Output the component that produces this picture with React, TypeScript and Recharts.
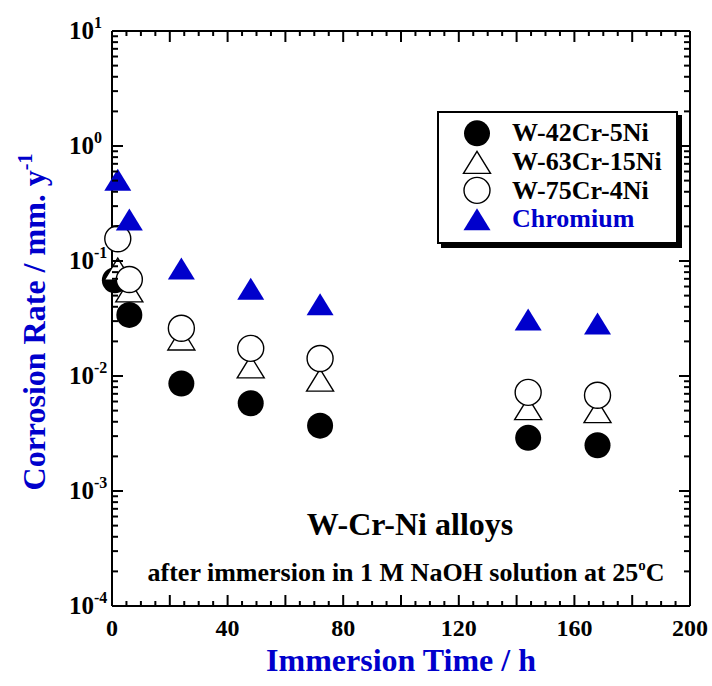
import React from 'react';
import { ScatterChart, Scatter, XAxis, YAxis, Legend } from 'recharts';

const FONT = '"Liberation Serif", "Times New Roman", serif';
const BLUE = '#0000cc';

// Immersion times (h)
const timesH = [2, 6, 24, 48, 72, 144, 168];
const timesW42 = [1, 6, 24, 48, 72, 144, 168];

// Corrosion rates (mm/y)
const rateW42Cr5Ni = [0.068, 0.034, 0.0086, 0.0058, 0.0037, 0.0029, 0.0025];
const rateW63Cr15Ni = [0.085, 0.055, 0.021, 0.012, 0.0092, 0.0052, 0.0049];
const rateW75Cr4Ni = [0.156, 0.069, 0.026, 0.0174, 0.0142, 0.0072, 0.0068];
const rateChromium = [0.51, 0.229, 0.086, 0.0575, 0.042, 0.031, 0.0286];

// Axis ticks
const xTicks = [0, 5, 10, 15, 20, 25, 30, 35, 40, 45, 50, 55, 60, 65, 70, 75, 80, 85, 90, 95, 100,
  105, 110, 115, 120, 125, 130, 135, 140, 145, 150, 155, 160, 165, 170, 175, 180, 185, 190, 195, 200];
const xMajorTicks = [0, 20, 40, 60, 80, 100, 120, 140, 160, 180, 200];
const xLabelTicks = [0, 40, 80, 120, 160, 200];
const yDecadeExps = [-4, -3, -2, -1, 0, 1];
const yMinorMultipliers = [1, 2, 3, 4, 5, 6, 7, 8, 9];

const yTicks: number[] = [];
yDecadeExps.forEach((e, i) => {
  if (i === yDecadeExps.length - 1) {
    yTicks.push(Math.pow(10, e));
  } else {
    yMinorMultipliers.forEach((m) => yTicks.push(m * Math.pow(10, e)));
  }
});

const toPoints = (xs: number[], ys: number[]) => xs.map((x, i) => ({ x, y: ys[i] }));
const dataW42 = toPoints(timesW42, rateW42Cr5Ni);
const dataW63 = toPoints(timesH, rateW63Cr15Ni);
const dataW75 = toPoints(timesH, rateW75Cr4Ni);
const dataCr = toPoints(timesH, rateChromium);

const isDecade = (v: number) => {
  const l = Math.log10(v);
  return Math.abs(l - Math.round(l)) < 1e-6;
};

// ---- marker shapes ----
const R = 13;
const TW = 13.5;
const TH = 11;
const FilledCircle = ({ cx, cy }: any) => <circle cx={cx} cy={cy} r={R} fill="#000" />;
const OpenCircle = ({ cx, cy }: any) => (
  <circle cx={cx} cy={cy} r={R} fill="#fff" stroke="#000" strokeWidth={1.4} />
);
const triPath = (cx: number, cy: number) =>
  `M${cx},${cy - TH} L${cx + TW},${cy + TH} L${cx - TW},${cy + TH} Z`;
const OpenTriangle = ({ cx, cy }: any) => (
  <path d={triPath(cx, cy)} fill="#fff" stroke="#000" strokeWidth={1.4} />
);
const BlueTriangle = ({ cx, cy }: any) => <path d={triPath(cx, cy)} fill={BLUE} />;

// ---- tick renderers ----
const BottomTick = ({ x, y, payload }: any) => {
  const v = payload.value;
  const major = xMajorTicks.includes(v);
  const labeled = xLabelTicks.includes(v);
  return (
    <g>
      <line x1={x} y1={y} x2={x} y2={y - (major ? 11 : 5)} stroke="#000" strokeWidth={2} />
      {labeled && (
        <text x={x} y={y + 30} textAnchor="middle" fontFamily={FONT} fontWeight="bold" fontSize={24} fill="#000">
          {v}
        </text>
      )}
    </g>
  );
};

const TopTick = ({ x, y, payload }: any) => {
  const v = payload.value;
  const major = xMajorTicks.includes(v);
  return <line x1={x} y1={y} x2={x} y2={y + (major ? 11 : 5)} stroke="#000" strokeWidth={2} />;
};

const LeftTick = ({ x, y, payload }: any) => {
  const v = payload.value;
  const major = isDecade(v);
  const exp = Math.round(Math.log10(v));
  return (
    <g>
      <line x1={x} y1={y} x2={x + (major ? 11 : 6)} y2={y} stroke="#000" strokeWidth={2} />
      {major && (
        <text x={69} y={y + 8} textAnchor="start" fontFamily={FONT} fontWeight="bold" fontSize={25} fill="#000">
          10
          <tspan fontSize={16} dy={-11}>{String(exp)}</tspan>
        </text>
      )}
    </g>
  );
};

const RightTick = ({ x, y, payload }: any) => {
  const v = payload.value;
  const major = isDecade(v);
  return <line x1={x} y1={y} x2={x - (major ? 11 : 6)} y2={y} stroke="#000" strokeWidth={2} />;
};

// ---- legend ----
const legendItems = [
  { name: 'W-42Cr-5Ni', Shape: FilledCircle, color: '#000' },
  { name: 'W-63Cr-15Ni', Shape: OpenTriangle, color: '#000' },
  { name: 'W-75Cr-4Ni', Shape: OpenCircle, color: '#000' },
  { name: 'Chromium', Shape: BlueTriangle, color: BLUE },
];

const LegendBox = () => (
  <div
    style={{
      boxSizing: 'border-box',
      width: 241,
      height: 133,
      border: '2px solid #000',
      background: '#fff',
      boxShadow: '4px 4px 0 #000',
      paddingTop: 6,
      fontFamily: FONT,
      fontWeight: 'bold',
      fontSize: 26,
    }}
  >
    {legendItems.map((it) => (
      <div key={it.name} style={{ display: 'flex', alignItems: 'center', height: 28.7 }}>
        <svg width={70} height={28.7} style={{ flex: '0 0 auto', overflow: 'visible' }}>
          <it.Shape cx={38} cy={14.35} />
        </svg>
        <span style={{ color: it.color, lineHeight: '28px', marginLeft: 3, whiteSpace: 'nowrap' }}>{it.name}</span>
      </div>
    ))}
  </div>
);

const axisLine = { stroke: '#000', strokeWidth: 2 };

export default function App() {
  return (
    <div style={{ position: 'absolute', left: 0, top: 0, width: 712, height: 686, background: '#fff' }}>
      <ScatterChart width={712} height={686} margin={{ top: 30, right: 21, bottom: 79, left: 111 }}>
        <XAxis
          xAxisId="b"
          type="number"
          dataKey="x"
          domain={[0, 200]}
          ticks={xTicks}
          interval={0}
          height={1}
          tickSize={0}
          tickMargin={0}
          tickLine={false}
          axisLine={axisLine}
          tick={(p: any) => <BottomTick {...p} />}
        />
        <XAxis
          xAxisId="t"
          orientation="top"
          type="number"
          dataKey="x"
          domain={[0, 200]}
          ticks={xTicks}
          interval={0}
          height={1}
          tickSize={0}
          tickMargin={0}
          tickLine={false}
          axisLine={axisLine}
          tick={(p: any) => <TopTick {...p} />}
        />
        <YAxis
          yAxisId="l"
          type="number"
          dataKey="y"
          scale="log"
          domain={[1e-4, 10]}
          ticks={yTicks}
          interval={0}
          width={1}
          tickSize={0}
          tickMargin={0}
          tickLine={false}
          axisLine={axisLine}
          tick={(p: any) => <LeftTick {...p} />}
        />
        <YAxis
          yAxisId="r"
          orientation="right"
          type="number"
          dataKey="y"
          scale="log"
          domain={[1e-4, 10]}
          ticks={yTicks}
          interval={0}
          width={1}
          tickSize={0}
          tickMargin={0}
          tickLine={false}
          axisLine={axisLine}
          tick={(p: any) => <RightTick {...p} />}
        />
        <Legend
          layout="vertical"
          align="center"
          verticalAlign="middle"
          content={() => <LegendBox />}
          wrapperStyle={{ left: 437, top: 111, width: 'auto', height: 'auto' }}
        />
        <Scatter name="W-42Cr-5Ni" data={dataW42} xAxisId="b" yAxisId="l" shape={(p: any) => <FilledCircle {...p} />} isAnimationActive={false} />
        <Scatter name="W-63Cr-15Ni" data={dataW63} xAxisId="b" yAxisId="l" shape={(p: any) => <OpenTriangle {...p} />} isAnimationActive={false} />
        <Scatter name="W-75Cr-4Ni" data={dataW75} xAxisId="b" yAxisId="l" shape={(p: any) => <OpenCircle {...p} />} isAnimationActive={false} />
        <Scatter name="Chromium" data={dataCr} xAxisId="t" yAxisId="r" shape={(p: any) => <BlueTriangle {...p} />} isAnimationActive={false} />

        <text transform="translate(45, 322) rotate(-90)" textAnchor="middle" fontFamily={FONT} fontWeight="bold" fontSize={32} fill={BLUE}>
          Corrosion Rate / mm. y
          <tspan fontSize={20} dy={-13}>-1</tspan>
        </text>
        <text x={401} y={671} textAnchor="middle" fontFamily={FONT} fontWeight="bold" fontSize={32} fill={BLUE}>
          Immersion Time / h
        </text>
        <text x={410} y={535} textAnchor="middle" fontFamily={FONT} fontWeight="bold" fontSize={32} fill="#000">
          W-Cr-Ni alloys
        </text>
        <text x={406} y={581} textAnchor="middle" fontFamily={FONT} fontWeight="bold" fontSize={26} fill="#000">
          after immersion in 1 M NaOH solution at 25
          <tspan fontSize={15} dy={-11}>o</tspan>
          <tspan dy={11}>C</tspan>
        </text>
      </ScatterChart>
    </div>
  );
}
